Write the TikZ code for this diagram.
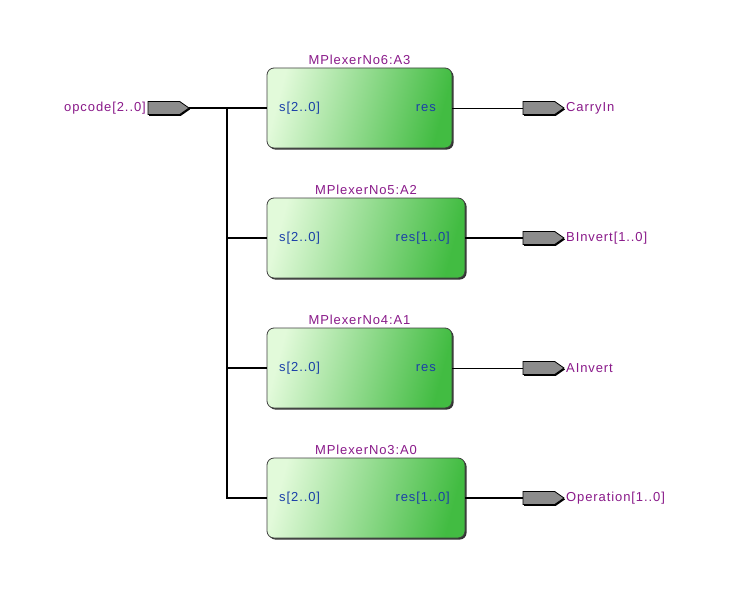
\documentclass[tikz,border=0pt]{standalone}
\usepackage{fontspec}
\setmainfont{Liberation Sans}
\newfontfamily\sigfont[LetterSpace=7]{Liberation Sans}
\usepackage{tikz}
\usetikzlibrary{positioning, shapes.symbols, shadows}
\definecolor{blkpale}{HTML}{E2FADA}
\definecolor{blkmid}{HTML}{92DD8A}
\definecolor{blkdark}{HTML}{42BC42}
\definecolor{titlepurple}{HTML}{8A1A8A}
\definecolor{portblue}{HTML}{1A3FA8}
\tikzset{
	mpxbox/.style={draw=black!75, line width=0.8pt, rounded corners=7pt,
		left color=blkpale, middle color=blkmid, right color=blkdark, shading angle=75,
		minimum height=80pt, inner sep=0pt, outer sep=0pt,
		drop shadow={shadow xshift=1.6pt, shadow yshift=-1.6pt, fill=black!80, opacity=1}},
	blktitle/.style={text=titlepurple, font=\sigfont\fontsize{13}{15}\selectfont, inner sep=0pt},
	portlbl/.style={text=portblue, font=\sigfont\fontsize{13}{15}\selectfont, inner sep=0pt},
	pinlbl/.style={text=titlepurple, font=\sigfont\fontsize{13}{15}\selectfont, inner sep=0pt},
	iopin/.style={shape=signal, signal to=east, signal pointer angle=70, draw=black, line width=0.8pt,
		fill=black!45, minimum width=41pt, minimum height=13pt, inner sep=0pt, outer sep=0pt,
		drop shadow={shadow xshift=1pt, shadow yshift=-1.4pt, fill=black, opacity=1}},
	wire/.style={line width=0.8pt},
	bus/.style={line width=1.8pt}
}
\begin{document}
\begin{tikzpicture}[x=1pt, y=-1pt]
		
		\fill[white] (0,0) rectangle (754,599);
		\useasboundingbox (0,0) rectangle (754,599);
		
		%A3
		\node[mpxbox, minimum width=185pt] (a3) at (359.5,108) {};
		\node[blktitle, above=3pt of a3] (a3t) {MPlexerNo6:A3};
		\node[portlbl, anchor=west] (a3s) at ([xshift=12pt]a3.west) {s[2..0]};
		\node[portlbl, anchor=east] (a3r) at ([xshift=-16pt]a3.east) {res};
		%A2
		\node[mpxbox, minimum width=198pt, below=50pt of a3.south west, anchor=north west] (a2) {};
		\node[blktitle, above=3pt of a2] (a2t) {MPlexerNo5:A2};
		\node[portlbl, anchor=west] (a2s) at ([xshift=12pt]a2.west) {s[2..0]};
		\node[portlbl, anchor=east] (a2r) at ([xshift=-15pt]a2.east) {res[1..0]};
		%A1
		\node[mpxbox, minimum width=185pt, below=50pt of a2.south west, anchor=north west] (a1) {};
		\node[blktitle, above=3pt of a1] (a1t) {MPlexerNo4:A1};
		\node[portlbl, anchor=west] (a1s) at ([xshift=12pt]a1.west) {s[2..0]};
		\node[portlbl, anchor=east] (a1r) at ([xshift=-16pt]a1.east) {res};
		%A0
		\node[mpxbox, minimum width=198pt, below=50pt of a1.south west, anchor=north west] (a0) {};
		\node[blktitle, above=3pt of a0] (a0t) {MPlexerNo3:A0};
		\node[portlbl, anchor=west] (a0s) at ([xshift=12pt]a0.west) {s[2..0]};
		\node[portlbl, anchor=east] (a0r) at ([xshift=-15pt]a0.east) {res[1..0]};
		
		%opcode
		\node[iopin, anchor=east] (opcode) at (a3.west -| 189,0) {};
		\node[pinlbl, left=2pt of opcode] (opcodel) {opcode[2..0]};
		%outputs
		\coordinate (outx) at (523,0);
		\node[iopin, anchor=west] (carry) at (outx |- a3.east) {};
		\node[pinlbl, right=2pt of carry] (carryl) {CarryIn};
		\node[iopin, anchor=west] (binv) at (outx |- a2.east) {};
		\node[pinlbl, right=2pt of binv] (binvl) {BInvert[1..0]};
		\node[iopin, anchor=west] (ainv) at (outx |- a1.east) {};
		\node[pinlbl, right=2pt of ainv] (ainvl) {AInvert};
		\node[iopin, anchor=west] (oper) at (outx |- a0.east) {};
		\node[pinlbl, right=2pt of oper] (operl) {Operation[1..0]};
		
		% opcode bus
		\coordinate (jn) at (a3.west -| 227,0);
		\draw[bus] (opcode.east) -- (a3.west);
		\draw[bus] (jn) |- (a0.west);
		\draw[bus] (jn |- a2.west) -- (a2.west);
		\draw[bus] (jn |- a1.west) -- (a1.west);
		
		% outputs
		\draw[wire] (a3.east) -- (carry.west);
		\draw[bus] (a2.east) -- (binv.west);
		\draw[wire] (a1.east) -- (ainv.west);
		\draw[bus] (a0.east) -- (oper.west);
		
\end{tikzpicture}
\end{document}
